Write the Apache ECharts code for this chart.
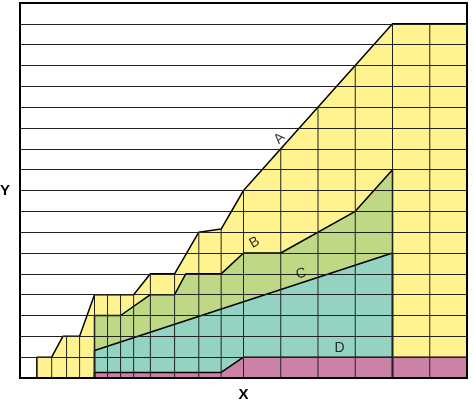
<!DOCTYPE html>
<html>
<head>
<meta charset="utf-8">
<script src="https://cdn.jsdelivr.net/npm/echarts@6/dist/echarts.min.js"></script>
<style>html,body{margin:0;padding:0;background:#fff}#c{width:474px;height:403px}</style>
</head>
<body>
<div id="c"></div>
<script>
// Series outlines [x, y] (x axis 0..12, y axis 0..18)
var seriesA = [[0.45,0],[0.45,1],[0.85,1],[1.15,2],[1.6,2],[2,4],[3.05,4],[3.5,5],[4.15,5],[4.8,7],[5.4,7.15],[6,9],[10,17],[12,17]];
var seriesB = [[2,0],[2,3],[2.7,3],[3.5,4],[4.15,4],[4.45,5],[5.4,5],[6,6],[7,6],[9,8],[10,10],[10,0]];
var seriesC = [[2,0],[2,1.32],[10,6],[10,0]];
var seriesD = [[2,0],[2,0.27],[5.4,0.27],[6,1],[12,1]];
// Vertical grid lines inside the filled region: x and top value
var gridX   = [0.45,0.85,1.25,1.6,2,2.35,2.7,3.05,3.5,4.15,4.8,5.4,6,7,8,9,10,11];
var gridTop = [1,1,2,2,4,4,4,4,5,5,7,7.15,9,11,13,15,17,17];
// Series labels: name, x, y, rotation
var labelNames = ['A','B','C','D'];
var labelX     = [6.97,6.3,7.55,8.58];
var labelY     = [11.5,6.5,5.0,1.44];
var labelRot   = [45,30,15,0];

var chart = echarts.init(document.getElementById('c'), null, {renderer:'canvas'});
function area(name, data, color){
  return {
    name: name, type: 'line', data: data, symbol: 'none', z: 2,
    lineStyle: {color: '#000', width: 1.5},
    areaStyle: {color: color, opacity: 1}
  };
}
chart.setOption({
  animation: false,
  grid: {left: 20, right: 7, top: 3, bottom: 25, containLabel: false, outerBoundsMode: 'none',
         show: true, borderColor: '#000', borderWidth: 2, backgroundColor: 'transparent', z: 6},
  xAxis: {
    type: 'value', min: 0, max: 12, interval: 1,
    name: 'X', nameLocation: 'middle', nameGap: 9,
    nameTextStyle: {fontFamily: 'Liberation Sans, Arial, sans-serif', fontWeight: 'bold', fontSize: 15, color: '#000'},
    axisLine: {show: false}, axisTick: {show: false}, axisLabel: {show: false}, splitLine: {show: false}
  },
  yAxis: {
    type: 'value', min: 0, max: 18, interval: 1, z: 5,
    name: 'Y', nameLocation: 'middle', nameGap: 10, nameRotate: 0,
    nameTextStyle: {fontFamily: 'Liberation Sans, Arial, sans-serif', fontWeight: 'bold', fontSize: 15, color: '#000'},
    axisLine: {show: false}, axisTick: {show: false}, axisLabel: {show: false},
    splitLine: {show: true, lineStyle: {color: '#222', width: 1}}
  },
  series: [
    area('A', seriesA, '#fff38f'),
    area('B', seriesB, '#bed886'),
    area('C', seriesC, '#94d2c2'),
    area('D', seriesD, '#cc82a6'),
    {
      type: 'custom', z: 4,
      data: gridX.map(function(x, i){ return [x, gridTop[i]]; }),
      renderItem: function(params, api){
        var p0 = api.coord([api.value(0), 0]);
        var p1 = api.coord([api.value(0), api.value(1)]);
        return {type: 'line', shape: {x1: p0[0], y1: p0[1], x2: p1[0], y2: p1[1]}, style: {stroke: '#222', lineWidth: 1}};
      }
    },
    {
      type: 'scatter', z: 7, symbolSize: 0,
      data: labelNames.map(function(n, i){
        return {name: n, value: [labelX[i], labelY[i]], label: {rotate: labelRot[i]}};
      }),
      label: {show: true, position: 'inside', formatter: '{b}', fontFamily: 'Liberation Sans, Arial, sans-serif', fontSize: 14, color: '#000'}
    }
  ]
});
</script>
</body>
</html>
